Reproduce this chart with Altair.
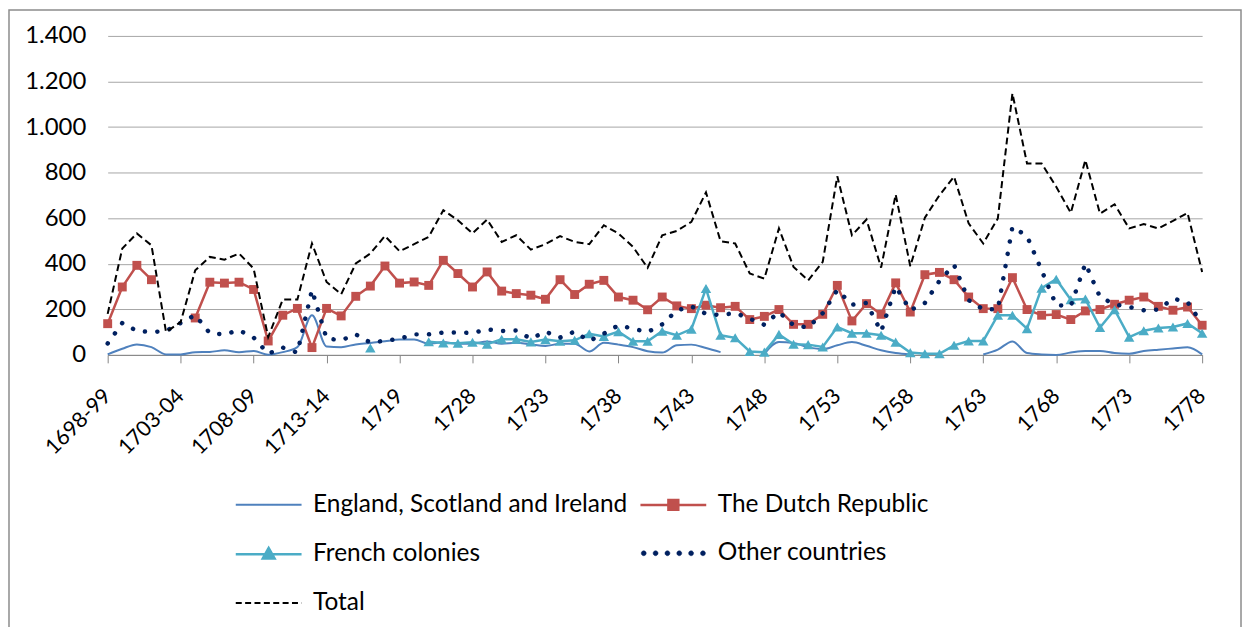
import altair as alt
import pandas as pd

# ---------------- data ----------------
periods = (
    ["1698-99", "1699-00", "1700-01", "1701-02", "1702-03", "1703-04", "1704-05",
     "1705-06", "1706-07", "1707-08", "1708-09", "1709-10", "1710-11", "1711-12",
     "1712-13", "1713-14", "1714-15", "1715-16", "1716-17", "1717-18",
     "1719", "1720", "1722", "1724", "1726", "1728"]
    + [str(y) for y in range(1729, 1779)]
)

tick_labels = ["1698-99", "1703-04", "1708-09", "1713-14", "1719", "1728", "1733",
               "1738", "1743", "1748", "1753", "1758", "1763", "1768", "1773", "1778"]

england = [2, 27, 46, 34, 2, 2, 12, 13, 20, 12,
           17, 1, 12, 34, 174, 37, 34, 46, 52, 60,
           67, 68, 49, 56, 49, 49, 59, 49, 53, 46,
           39, 49, 49, 15, 53, 45, 34, 16, 10, 42,
           45, 30, 12, None, None, 5, 56, 52, 34, 25,
           42, 56, 40, 20, 8, 2, None, None, None, None,
           2, 23, 59, 8, 2, 0, 10, 17, 17, 8,
           5, 17, 23, 28, 33, 2]

dutch = [137, 298, 393, 330, None, None, 162, 319, 315, 319,
         287, 61, 174, 204, 32, 204, 171, 257, 302, 390,
         315, 320, 305, 415, 357, 298, 364, 280, 269, 262,
         244, 330, 265, 310, 327, 254, 240, 198, 254, 215,
         203, 218, 207, 213, 155, 169, 199, 134, 134, 178,
         305, 149, 225, 178, 316, 188, 352, 362, 330, 254,
         203, 203, 339, 199, 174, 177, 155, 193, 199, 222,
         240, 254, 213, 196, 210, 130]

french = ([None] * 18 + [30] + [None] * 3 +
          [58, 52, 51, 55, 47, 69, 69, 57,
           67, 60, 64, 93, 81, 102, 60, 60, 104, 86,
           113, 291, 86, 75, 15, 12, 90, 47, 45, 35,
           122, 95, 95, 86, 56, 10, 5, 5, 42, 61,
           61, 174, 174, 115, 293, 332, 242, 245, 120, 198,
           78, 106, 118, 122, 138, 95])

other = [50, 140, 105, 100, 105, 140, 175, 95, 90, 108,
         76, 5, 32, 10, 285, 72, 64, 90, 54, 62,
         71, 90, 90, 98, 98, 96, 112, 105, 107, 71,
         102, 76, 102, 61, 93, 130, 115, 100, 134, 195,
         213, 180, 175, 184, 159, 132, 188, 130, 120, 183,
         285, 220, 228, 102, 300, 196, 228, 325, 395, 240,
         200, 200, 562, 521, 371, 218, 215, 401, 254, 222,
         210, 196, 199, 247, 232, 135]

total = [180, 467, 533, 481, 100, 144, 371, 430, 418, 445,
         379, 78, 243, 243, 489, 320, 266, 401, 445, 522,
         455, 486, 518, 635, 591, 533, 594, 496, 525, 462,
         486, 521, 496, 486, 569, 533, 474, 382, 525, 544,
         584, 713, 499, 489, 357, 335, 555, 386, 327, 408,
         784, 525, 594, 383, 704, 389, 602, 701, 782, 577,
         489, 599, 1148, 840, 840, 738, 623, 855, 620, 661,
         555, 574, 555, 588, 623, 364]

series_names = ["England, Scotland and Ireland", "The Dutch Republic",
                "French colonies", "Other countries", "Total"]
series_colors = ["#4F81BD", "#C0504D", "#4BACC6", "#002060", "#000000"]

for lst in (england, dutch, french, other, total):
    assert len(lst) == len(periods)

rows = []
for name, vals in zip(series_names, [england, dutch, french, other, total]):
    for p, v in zip(periods, vals):
        rows.append({"period": p, "series": name, "value": v})
df = pd.DataFrame(rows)

FONT = "Lato"

x_enc = alt.X(
    "period:N",
    scale=alt.Scale(type="point", domain=periods, padding=0),
    axis=alt.Axis(values=tick_labels, labelAngle=-45, labelAlign="right",
                  labelBaseline="middle", labelPadding=30, tickSize=8,
                  tickColor="#868686", domainColor="#868686", domainWidth=1,
                  labelFont=FONT, labelFontSize=21.5, labelColor="#000000",
                  labelOverlap=False, grid=False),
    title=None,
)
y_enc = alt.Y(
    "value:Q",
    scale=alt.Scale(domain=[0, 1400], nice=False, zero=True),
    axis=alt.Axis(values=list(range(0, 1401, 200)),
                  labelExpr="replace(format(datum.value, ','), ',', '.')",
                  grid=True, gridColor="#A6A6A6", gridWidth=1, domain=False,
                  ticks=False, labelPadding=22, labelFont=FONT,
                  labelFontSize=24, labelColor="#000000"),
    title=None,
)

base = alt.Chart(df).encode(x=x_enc, y=y_enc)


def sel(name):
    return base.transform_filter(alt.datum.series == name)


eng_line = sel(series_names[0]).mark_line(
    color=series_colors[0], strokeWidth=2, interpolate="monotone")
dut_line = sel(series_names[1]).mark_line(color=series_colors[1], strokeWidth=2.5)
dut_pts = sel(series_names[1]).mark_point(
    shape="square", filled=True, size=80, color=series_colors[1], opacity=1)
fr_line = sel(series_names[2]).mark_line(color=series_colors[2], strokeWidth=2.5)
fr_pts = sel(series_names[2]).mark_point(
    shape="triangle-up", filled=True, size=110, color=series_colors[2], opacity=1)
oth_line = sel(series_names[3]).mark_line(
    color=series_colors[3], strokeWidth=4.5, strokeDash=[0.1, 12.4], strokeCap="round")
tot_line = sel(series_names[4]).mark_line(
    color=series_colors[4], strokeWidth=2, strokeDash=[7, 4])

# ---------------- legend (no drawn marks: value is empty) ----------------
legend_df = pd.DataFrame({"series": series_names, "period": [periods[0]] * 5,
                          "value": [None] * 5})


def dots_path():
    r = 0.075
    parts = []
    for k in range(6):
        cx = -0.9 + 0.36 * k
        parts.append(f"M{cx - r:.3f},0a{r},{r} 0 1,0 {2 * r},0a{r},{r} 0 1,0 {-2 * r},0Z")
    return "".join(parts)


legend_paths = [
    "M-1,0H1",
    "M-1,0H1M-0.15,-0.15H0.15V0.15H-0.15Z",
    "M-1,0H1M0,-0.19L0.18,0.13H-0.18Z",
    dots_path(),
    "M-1,0H1",
]
legend_dashes = [[1, 0], [1, 0], [1, 0], [1, 0], [6, 3.4]]
legend_widths = [2, 2.5, 2.5, 0.5, 2]

leg = alt.Legend(
    title=None, orient="none", legendX=127, legendY=436, columns=2,
    direction="horizontal",
    symbolSize=4356, labelOffset=10, columnPadding=7, rowPadding=3.5, padding=0,
    labelFont=FONT, labelFontSize=24.5, labelColor="#000000", labelLimit=500,
    symbolOpacity=1,
)

legend_layer = alt.Chart(legend_df).mark_point(opacity=1).encode(
    x=x_enc, y=y_enc,
    fill=alt.Fill("series:N", scale=alt.Scale(domain=series_names, range=series_colors),
                  legend=leg),
    stroke=alt.Stroke("series:N", scale=alt.Scale(domain=series_names, range=series_colors),
                      legend=leg),
    shape=alt.Shape("series:N", scale=alt.Scale(domain=series_names, range=legend_paths),
                    legend=leg),
    strokeDash=alt.StrokeDash("series:N",
                              scale=alt.Scale(domain=series_names, range=legend_dashes),
                              legend=leg),
    strokeWidth=alt.StrokeWidth("series:N",
                                scale=alt.Scale(type="ordinal", domain=series_names,
                                                range=legend_widths),
                                legend=leg),
)

# outer frame of the chart area
frame = alt.Chart(pd.DataFrame({"f": [0]})).mark_rect(
    fill="transparent", stroke="#8C8C8C", strokeWidth=1.5
).encode(x=alt.value(-99), x2=alt.value(1137), y=alt.value(-26), y2=alt.value(640))

chart = alt.layer(
    frame, eng_line, dut_line, dut_pts, fr_line, fr_pts, oth_line, tot_line, legend_layer
).properties(
    width=1098, height=320,
    autosize=alt.AutoSizeParams(type="none"),
    padding={"left": 100, "top": 27, "right": 42, "bottom": 272},
    background="#FFFFFF",
).configure_view(stroke="transparent")

chart.save("out.html", embed_options={"renderer": "svg", "actions": False})
